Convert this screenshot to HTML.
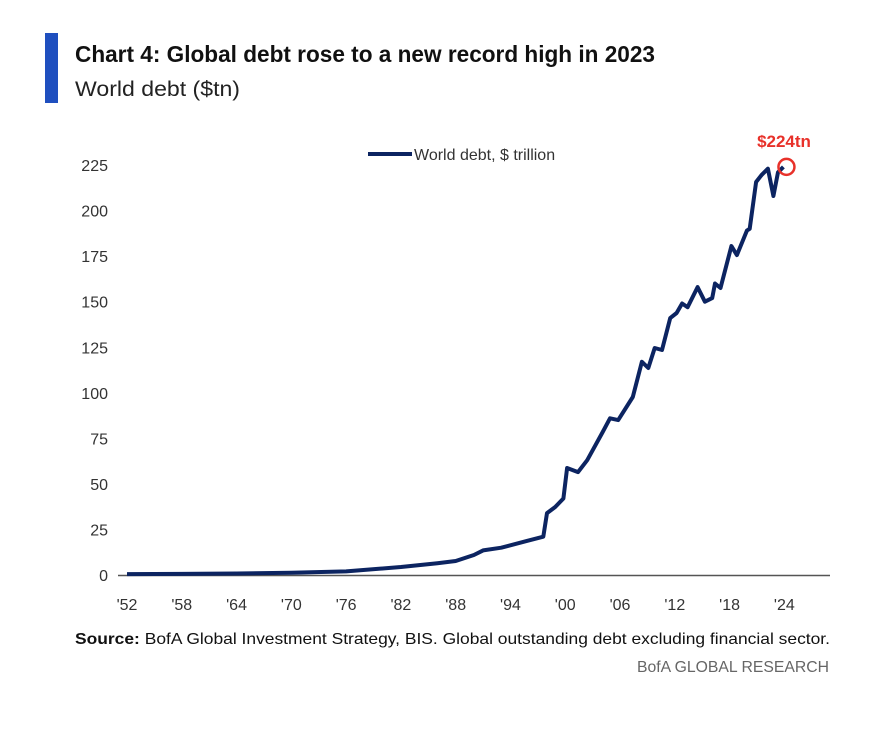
<!DOCTYPE html>
<html><head><meta charset="utf-8"><style>
body{margin:0;background:#fff;}
svg{display:block;font-family:"Liberation Sans",sans-serif;}
</style></head><body>
<svg width="881" height="734" viewBox="0 0 881 734">
<rect x="45" y="33" width="13" height="70" fill="#1f4fbf"/>
<text x="75" y="62" font-size="23" font-weight="bold" fill="#111" textLength="580" lengthAdjust="spacingAndGlyphs">Chart 4: Global debt rose to a new record high in 2023</text>
<text x="75" y="96" font-size="21" fill="#222" textLength="165" lengthAdjust="spacingAndGlyphs">World debt ($tn)</text>
<g id="yaxis"></g>
<g id="xaxis"></g>
<line x1="118" y1="575.5" x2="830" y2="575.5" stroke="#555" stroke-width="1.5"/>
<path id="line" fill="none" stroke="#0c2461" stroke-width="4" stroke-linejoin="round"/>
<line x1="368" y1="154" x2="412" y2="154" stroke="#0c2461" stroke-width="4"/>
<text x="414" y="160" font-size="16" fill="#333">World debt, $ trillion</text>
<circle id="hl" r="8" fill="none" stroke="#e8312a" stroke-width="2.5"/>
<text x="784" y="147" font-size="17" font-weight="bold" fill="#e8312a" text-anchor="middle">$224tn</text>
<text x="75" y="644" font-size="16" fill="#111" textLength="755" lengthAdjust="spacingAndGlyphs"><tspan font-weight="bold">Source:</tspan> BofA Global Investment Strategy, BIS. Global outstanding debt excluding financial sector.</text>
<text x="829" y="672" font-size="16" fill="#666" text-anchor="end" textLength="192" lengthAdjust="spacingAndGlyphs">BofA GLOBAL RESEARCH</text>
</svg>
<script>
const years=[1952,1958,1964,1970,1976,1982,1986,1988,1990,1991,1993,1995.8,1997.6,1998,1998.9,1999.8,2000.2,2001.4,2002.4,2004.1,2004.9,2005.8,2007.4,2008.4,2009.1,2009.8,2010.6,2011.5,2012.2,2012.8,2013.4,2014.5,2015.3,2016.1,2016.4,2017,2018.2,2018.8,2019.9,2020.2,2020.9,2021.5,2022.2,2022.8,2023.3,2023.9];
const debt=[0.5,0.6,0.8,1.2,2,4.4,6.5,7.7,11,13.5,15,18.7,21,34,37.3,42,58.7,56.5,63,78.5,86,85,97.7,117,113.6,124.6,123.5,141,143.8,149,147,158,150,152,160,157.5,180.5,175.6,189,190,215.7,219.5,223,208,221,224];
const yTicks=[0,25,50,75,100,125,150,175,200,225];
const xTickYears=[1952,1958,1964,1970,1976,1982,1988,1994,2000,2006,2012,2018,2024];
const xTickLabels=["'52","'58","'64","'70","'76","'82","'88","'94","'00","'06","'12","'18","'24"];
const X=y=>127+(y-1952)*9.13;
const Y=v=>575-v*1.822;
const NS="http://www.w3.org/2000/svg";
const ya=document.getElementById('yaxis'),xa=document.getElementById('xaxis');
yTicks.forEach(t=>{const e=document.createElementNS(NS,'text');e.setAttribute('x',108);e.setAttribute('y',Y(t)+6);e.setAttribute('font-size',16);e.setAttribute('fill','#333');e.setAttribute('text-anchor','end');e.textContent=t;


ya.appendChild(e);});
xTickYears.forEach((yr,i)=>{const e=document.createElementNS(NS,'text');e.setAttribute('x',X(yr));e.setAttribute('y',610);e.setAttribute('font-size',16);e.setAttribute('fill','#333');e.setAttribute('text-anchor','middle');e.textContent=xTickLabels[i];


xa.appendChild(e);});
document.getElementById('line').setAttribute('d',years.map((y,i)=>(i?'L':'M')+X(y).toFixed(1)+' '+Y(debt[i]).toFixed(1)).join(' '));
const n=years.length-1,hl=document.getElementById('hl');
hl.setAttribute('cx',X(years[n])+3);hl.setAttribute('cy',Y(debt[n]));
</script>
</body></html>
